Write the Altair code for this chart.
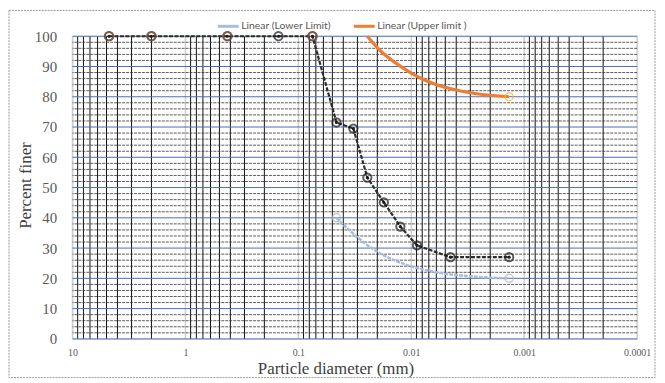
import altair as alt
import pandas as pd

# ---- data ----
sieve_d = [4.75, 2.0, 0.425, 0.15, 0.075]
sieve_pf = [100, 100, 100, 100, 100]
sieve_kind = ["limit", "limit", "limit", "test", "limit"]

hydro_d = [0.046, 0.0326, 0.0245, 0.0175, 0.0125, 0.0089, 0.0045, 0.00136]
hydro_pf = [71.5, 69.5, 53.3, 45.1, 37.1, 30.9, 27.0, 27.0]

lower_trend_d = [0.046, 0.0301, 0.0200, 0.0117, 0.0060, 0.00284, 0.00136]
lower_trend_pf = [40.0, 33.6, 28.8, 24.8, 22.0, 20.6, 20.0]
upper_trend_d = [0.0245, 0.0188, 0.0143, 0.0102, 0.0073, 0.00455, 0.00265, 0.00136]
upper_trend_pf = [100.0, 95.2, 91.6, 88.0, 85.2, 82.7, 81.0, 80.0]

lower_pts_d = [0.046, 0.00136]
lower_pts_pf = [40, 20]
upper_pts_d = [0.00136]
upper_pts_pf = [80]

x_major = [10, 1, 0.1, 0.01, 0.001, 0.0001]
x_minor_mult = [2, 3, 4, 5, 6, 7, 8, 9]
y_major = [0, 10, 20, 30, 40, 50, 60, 70, 80, 90, 100]
y_minor = [v for v in range(2, 100, 2) if v % 10]

series_names = ["Linear (Lower Limit)", "Linear (Upper limit )"]
series_colors = ["#a9bcdc", "#ed7d31"]

# ---- tables ----
test_df = pd.DataFrame({"d": sieve_d + hydro_d, "pf": sieve_pf + hydro_pf})
sieve_df = pd.DataFrame({"d": sieve_d, "pf": sieve_pf, "kind": sieve_kind})
lower_df = pd.DataFrame({"d": lower_trend_d, "pf": lower_trend_pf, "series": series_names[0]})
upper_df = pd.DataFrame({"d": upper_trend_d, "pf": upper_trend_pf, "series": series_names[1]})
lower_pts = pd.DataFrame({"d": lower_pts_d, "pf": lower_pts_pf})
upper_pts = pd.DataFrame({"d": upper_pts_d, "pf": upper_pts_pf})

xmajor_df = pd.DataFrame({"d": x_major})
xminor_df = pd.DataFrame({"d": [m * dec for dec in x_major[1:] for m in x_minor_mult]})
ymajor_df = pd.DataFrame({"pf": y_major})
yminor_df = pd.DataFrame({"pf": y_minor})

SERIF = "Liberation Serif"

xs = alt.Scale(type="log", domain=[0.0001, 10], reverse=True)
ys = alt.Scale(domain=[0, 100], nice=False, zero=False)

x_axis = alt.Axis(values=x_major, format="~g", labelFont=SERIF, labelFontSize=10,
                  labelColor="#595959", labelPadding=9, labelFlush=False, ticks=False,
                  domain=False, grid=False, title="Particle diameter (mm)", titleFont=SERIF,
                  titleFontSize=17, titleFontWeight="normal", titleColor="#404040",
                  titleX=265, titleY=30, titleBaseline="middle", titleAlign="center")
y_axis = alt.Axis(values=y_major, labelFont=SERIF, labelFontSize=15, labelColor="#595959",
                  labelPadding=16, labelFlush=False, ticks=False, domain=False, grid=False,
                  title="Percent finer", titleFont=SERIF, titleFontSize=17,
                  titleFontWeight="normal", titleColor="#404040", titleX=-47, titleY=150,
                  titleBaseline="middle", titleAlign="center")

X = alt.X("d:Q", scale=xs, axis=x_axis)
Y = alt.Y("pf:Q", scale=ys, axis=y_axis)

frame = alt.Chart(pd.DataFrame({"a": [0]})).mark_rect(
    fill="transparent", stroke="#9a9a9a", strokeWidth=1, strokeDash=[2, 1]
).encode(x=alt.value(-64), x2=alt.value(587), y=alt.value(-26), y2=alt.value(344))

vmajor = alt.Chart(xmajor_df).mark_rule(color="#d0d0d0", strokeWidth=1.5).encode(x=X)
vminor = alt.Chart(xminor_df).mark_rule(color="#111111", strokeWidth=1).encode(x=X)
hminor = alt.Chart(yminor_df).mark_rule(color="#333333", strokeWidth=0.8, strokeDash=[3, 1]).encode(y=Y)
hmajor = alt.Chart(ymajor_df).mark_rule(color="#4a6fb5", strokeWidth=1).encode(y=Y)

color_scale = alt.Scale(domain=series_names, range=series_colors)
legend = alt.Legend(title=None, orient="none", legendX=145, legendY=-22, direction="horizontal",
                    symbolType="stroke", symbolSize=441, symbolStrokeWidth=3,
                    labelFont="Lato", labelFontSize=10.5, labelColor="#595959",
                    columnPadding=16, labelOffset=1)

lower_line = alt.Chart(lower_df).mark_line(strokeWidth=2.5, strokeDash=[4, 1], interpolate="monotone").encode(
    x=X, y=Y, color=alt.Color("series:N", scale=color_scale, legend=legend))
upper_line = alt.Chart(upper_df).mark_line(strokeWidth=3.2, interpolate="monotone").encode(
    x=X, y=Y, color=alt.Color("series:N", scale=color_scale, legend=legend))

test_line = alt.Chart(test_df).mark_line(color="#2b2b2b", strokeWidth=2.2, strokeDash=[4, 1.5]).encode(x=X, y=Y)

test_marks = alt.Chart(test_df).mark_point(shape="circle", filled=False, size=70, strokeWidth=2,
                                           color="#1a1a1a").encode(x=X, y=Y)
test_dots = alt.Chart(test_df).mark_point(shape="circle", filled=True, size=10, opacity=1,
                                          color="#1a1a1a").encode(x=X, y=Y)
limit_marks = alt.Chart(sieve_df).transform_filter(alt.datum.kind == "limit").mark_point(
    shape="circle", filled=False, size=70, strokeWidth=2, color="#8c5a3c").encode(x=X, y=Y)
lower_marks = alt.Chart(lower_pts).mark_point(shape="circle", filled=False, size=65, strokeWidth=1.5,
                                              color="#b5b5b5").encode(x=X, y=Y)
upper_marks = alt.Chart(upper_pts).mark_point(shape="circle", filled=False, size=65, strokeWidth=1.5,
                                              color="#f0b440").encode(x=X, y=Y)

chart = alt.layer(
    frame, vmajor, vminor, hminor, hmajor, lower_line, upper_line, test_line,
    test_marks, test_dots, limit_marks, lower_marks, upper_marks
).properties(
    width=569, height=305,
    autosize=alt.AutoSizeParams(type="none"),
    padding={"left": 65, "top": 27, "right": 20, "bottom": 42},
).configure_view(stroke="transparent").configure(background="white")

chart.save("out.html", embed_options={"renderer": "svg", "actions": False})
